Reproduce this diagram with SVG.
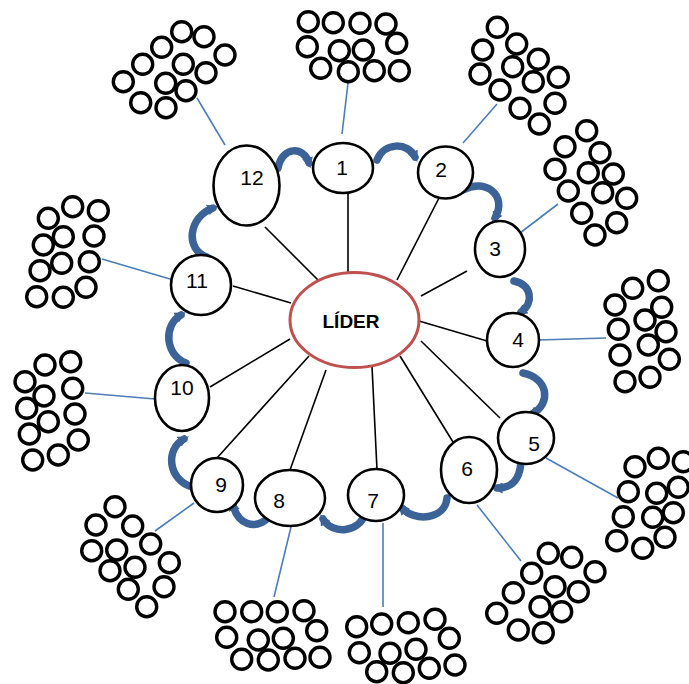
<svg xmlns="http://www.w3.org/2000/svg" width="689" height="684" viewBox="0 0 689 684">
<style>
.c{fill:none;stroke:#000;stroke-width:3.4}
.n{fill:#fff;stroke:#000;stroke-width:2.6}
.t{font-family:"Liberation Sans",Arial,sans-serif;font-size:21px;fill:#000;text-anchor:middle}
.sp{stroke:#000;stroke-width:1.6;fill:none}
.bl{stroke:#4a7ebb;stroke-width:1.6;fill:none}
.ar{stroke:#3b6397;stroke-width:7.5;fill:none;stroke-linecap:round;marker-end:url(#ah)}
</style>
<defs>
<marker id="ah" markerUnits="userSpaceOnUse" viewBox="0 0 10 10" refX="5" refY="5" markerWidth="11" markerHeight="11" orient="auto">
<path d="M0,0 L10,5 L0,10 z" fill="#3b6397"/>
</marker>
<circle id="s" r="10" class="c"/>
</defs>
<rect width="689" height="684" fill="#fff"/>
<g id="connectors">
<path class="sp" d="M348,188 L348,272 M439,198 L397,280 M265,227 L325,287 M467,271 L421,296 M233,286 L291,303 M419,321 L487,341 M210,387 L290,339 M217,458 L309,356 M290,470 L326,370 M377,470 L372,366 M453,442 L400,356 M500,418 L421,341"/>
<path class="bl" d="M197,98 L225,145 M348,83 L342,134 M497,104 L463,143 M558,204 L520,233 M538,340 L606,338 M546,458 L618,498 M477,505 L521,561 M383,523 L383,607 M291,527 L274,597 M194,503 L155,531 M155,399 L85,393 M170,279 L102,259"/>
<path class="ar" d="M278,168 C282,146 304,146 309,163"/>
<path class="ar" d="M377,160 C384,142 408,142 415,157"/>
<path class="ar" d="M463,190 C485,178 508,195 495,218"/>
<path class="ar" d="M514,281 C532,285 534,303 521,312"/>
<path class="ar" d="M523,373 C548,378 552,403 532,414"/>
<path class="ar" d="M521,461 C520,480 512,488 497,488"/>
<path class="ar" d="M447,498 C445,520 414,522 402,508"/>
<path class="ar" d="M365,513 C360,533 332,535 323,519"/>
<path class="ar" d="M268,518 C255,530 238,525 233,505"/>
<path class="ar" d="M192,487 C168,480 165,449 184,439"/>
<path class="ar" d="M186,363 C165,355 163,325 181,315"/>
<path class="ar" d="M207,257 C185,250 188,217 213,208"/>
</g>
<g id="leader">
<ellipse cx="354.5" cy="320" rx="64.5" ry="47.5" fill="#fff" stroke="#c0504d" stroke-width="3"/>
<text x="351" y="328" class="t" style="font-weight:bold;font-size:19px">LÍDER</text>
</g>
<g id="n1"><ellipse class="n" cx="343" cy="168" rx="30" ry="25"/><text class="t" x="342" y="175">1</text></g>
<g id="n2"><ellipse class="n" cx="445.5" cy="172.5" rx="27.5" ry="26"/><text class="t" x="441" y="177">2</text></g>
<g id="n3"><ellipse class="n" cx="500" cy="249" rx="25" ry="28"/><text class="t" x="495" y="256">3</text></g>
<g id="n4"><ellipse class="n" cx="513" cy="340" rx="26" ry="27"/><text class="t" x="518" y="347">4</text></g>
<g id="n5"><ellipse class="n" cx="526" cy="438" rx="28" ry="26"/><text class="t" x="534" y="451">5</text></g>
<g id="n6"><ellipse class="n" cx="469" cy="470" rx="28" ry="33"/><text class="t" x="467" y="476">6</text></g>
<g id="n7"><ellipse class="n" cx="376" cy="495" rx="28" ry="26"/><text class="t" x="373" y="508">7</text></g>
<g id="n8"><ellipse class="n" cx="290" cy="498" rx="35" ry="28"/><text class="t" x="279" y="508">8</text></g>
<g id="n9"><ellipse class="n" cx="217" cy="485" rx="26" ry="27"/><text class="t" x="221" y="492">9</text></g>
<g id="n10"><ellipse class="n" cx="182" cy="398" rx="27" ry="33"/><text class="t" x="182" y="395">10</text></g>
<g id="n11"><ellipse class="n" cx="201" cy="285" rx="30" ry="30"/><text class="t" x="197" y="288">11</text></g>
<g id="n12"><ellipse class="n" cx="246.5" cy="185.5" rx="33" ry="40"/><text class="t" x="252" y="185">12</text></g>
<g id="cluster12">
<use href="#s" x="181.7" y="31.7"/><use href="#s" x="204" y="36.7"/><use href="#s" x="161.7" y="47.3"/><use href="#s" x="225" y="55"/><use href="#s" x="142.7" y="64.3"/><use href="#s" x="183.3" y="64.3"/><use href="#s" x="206" y="72.7"/><use href="#s" x="123.3" y="81.7"/><use href="#s" x="165.7" y="83.3"/><use href="#s" x="186" y="90.7"/><use href="#s" x="140.7" y="102.7"/><use href="#s" x="166" y="107.7"/>
</g>
<g id="cluster1">
<use href="#s" x="308.3" y="21.7"/><use href="#s" x="333.3" y="22.7"/><use href="#s" x="360" y="23.3"/><use href="#s" x="386" y="24"/><use href="#s" x="307.3" y="46.7"/><use href="#s" x="339.3" y="50.7"/><use href="#s" x="363.3" y="50"/><use href="#s" x="396.7" y="43.3"/><use href="#s" x="320.7" y="68.3"/><use href="#s" x="348.3" y="71.7"/><use href="#s" x="374.3" y="70.7"/><use href="#s" x="399.3" y="70.7"/>
</g>
<g id="cluster2">
<use href="#s" x="497.3" y="27.3"/><use href="#s" x="516.7" y="44"/><use href="#s" x="482.7" y="50"/><use href="#s" x="538.3" y="59.3"/><use href="#s" x="512.7" y="66.7"/><use href="#s" x="480" y="74"/><use href="#s" x="533.3" y="81.7"/><use href="#s" x="558.3" y="77.3"/><use href="#s" x="500" y="90"/><use href="#s" x="520" y="108.3"/><use href="#s" x="555" y="103.3"/><use href="#s" x="539.3" y="124"/>
</g>
<g id="cluster3">
<use href="#s" x="586.7" y="130.7"/><use href="#s" x="565" y="146.7"/><use href="#s" x="600" y="152.7"/><use href="#s" x="555" y="169.3"/><use href="#s" x="588.3" y="172.7"/><use href="#s" x="613.3" y="174"/><use href="#s" x="568.3" y="191"/><use href="#s" x="602.7" y="192.7"/><use href="#s" x="626.7" y="198.3"/><use href="#s" x="581.7" y="213.3"/><use href="#s" x="616.7" y="222.7"/><use href="#s" x="595" y="235"/>
</g>
<g id="cluster4">
<use href="#s" x="658.3" y="280.7"/><use href="#s" x="632.7" y="288.3"/><use href="#s" x="615" y="305"/><use href="#s" x="661.7" y="307.3"/><use href="#s" x="645" y="320"/><use href="#s" x="618.3" y="329.3"/><use href="#s" x="666" y="331.7"/><use href="#s" x="648.3" y="345"/><use href="#s" x="620" y="355"/><use href="#s" x="669.3" y="359.3"/><use href="#s" x="625" y="381.7"/><use href="#s" x="650" y="377.3"/>
</g>
<g id="cluster5">
<use href="#s" x="658.3" y="458.3"/><use href="#s" x="635" y="466.7"/><use href="#s" x="683.3" y="461.7"/><use href="#s" x="628.3" y="491.7"/><use href="#s" x="656.7" y="493.3"/><use href="#s" x="678.3" y="487.3"/><use href="#s" x="623.3" y="516.7"/><use href="#s" x="652.7" y="517.3"/><use href="#s" x="673.3" y="512.7"/><use href="#s" x="616.7" y="540.7"/><use href="#s" x="642.7" y="548.3"/><use href="#s" x="665" y="537.3"/>
</g>
<g id="cluster6">
<use href="#s" x="548.3" y="553.3"/><use href="#s" x="571.7" y="557.3"/><use href="#s" x="531.7" y="573.3"/><use href="#s" x="595" y="571.7"/><use href="#s" x="555" y="586.7"/><use href="#s" x="578.3" y="591.7"/><use href="#s" x="513.3" y="592.7"/><use href="#s" x="540" y="606.7"/><use href="#s" x="561.7" y="611.7"/><use href="#s" x="496.7" y="613.3"/><use href="#s" x="518.3" y="630"/><use href="#s" x="543.3" y="632.7"/>
</g>
<g id="cluster7">
<use href="#s" x="356.7" y="626.7"/><use href="#s" x="381.7" y="624"/><use href="#s" x="408.3" y="622.7"/><use href="#s" x="435" y="619.3"/><use href="#s" x="449.3" y="638.3"/><use href="#s" x="359.3" y="652.7"/><use href="#s" x="390" y="653.3"/><use href="#s" x="416" y="649.3"/><use href="#s" x="376.7" y="671.7"/><use href="#s" x="403.3" y="672.7"/><use href="#s" x="429.3" y="668.3"/><use href="#s" x="455" y="665"/>
</g>
<g id="cluster8">
<use href="#s" x="225" y="611.7"/><use href="#s" x="251.7" y="611.7"/><use href="#s" x="277.3" y="611.7"/><use href="#s" x="304" y="610.7"/><use href="#s" x="316.7" y="630.7"/><use href="#s" x="226.7" y="637.3"/><use href="#s" x="258.3" y="640"/><use href="#s" x="283.3" y="638.3"/><use href="#s" x="241.7" y="659.3"/><use href="#s" x="268.3" y="660"/><use href="#s" x="295" y="658.3"/><use href="#s" x="320" y="657.3"/>
</g>
<g id="cluster9">
<use href="#s" x="115" y="506.7"/><use href="#s" x="96" y="525"/><use href="#s" x="132.7" y="526"/><use href="#s" x="150.7" y="544"/><use href="#s" x="91.7" y="550.7"/><use href="#s" x="116.7" y="550"/><use href="#s" x="169.3" y="562.7"/><use href="#s" x="110" y="570.7"/><use href="#s" x="135" y="567.3"/><use href="#s" x="164" y="586.7"/><use href="#s" x="128.3" y="589.3"/><use href="#s" x="146.7" y="606.7"/>
</g>
<g id="cluster10">
<use href="#s" x="45" y="365"/><use href="#s" x="70.7" y="361.7"/><use href="#s" x="25" y="381.7"/><use href="#s" x="44" y="396"/><use href="#s" x="72.7" y="388.3"/><use href="#s" x="26.7" y="408.3"/><use href="#s" x="48.3" y="421.7"/><use href="#s" x="75" y="414"/><use href="#s" x="29.3" y="434"/><use href="#s" x="78.3" y="440"/><use href="#s" x="58.3" y="455"/><use href="#s" x="32.7" y="460"/>
</g>
<g id="cluster11">
<use href="#s" x="72.7" y="206.7"/><use href="#s" x="98.3" y="210.7"/><use href="#s" x="48.3" y="218.3"/><use href="#s" x="63.3" y="236.7"/><use href="#s" x="94" y="236"/><use href="#s" x="43.3" y="245"/><use href="#s" x="61.7" y="263.3"/><use href="#s" x="89.3" y="261.7"/><use href="#s" x="40" y="270.7"/><use href="#s" x="86" y="287.3"/><use href="#s" x="36.7" y="296.7"/><use href="#s" x="63.3" y="297.3"/>
</g>
</svg>
